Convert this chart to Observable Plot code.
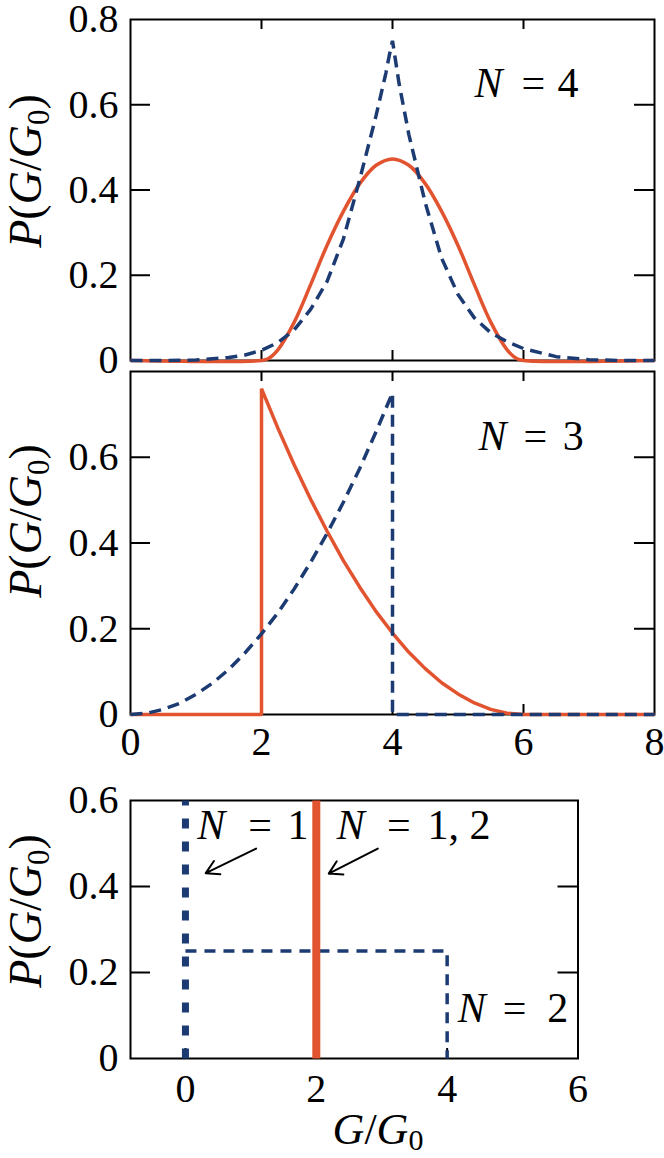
<!DOCTYPE html>
<html><head><meta charset="utf-8">
<script src="https://cdn.jsdelivr.net/npm/d3@7"></script>
<script src="https://cdn.jsdelivr.net/npm/@observablehq/plot@0.6"></script>
<style>
body{margin:0;background:#fff}
#fig{position:relative;width:664px;height:1158px;overflow:hidden;background:#fff}
#fig svg{position:absolute;left:0}
#fig svg text{font-family:"Liberation Serif","DejaVu Serif",serif}
</style></head><body><div id="fig"></div><script>
const FONT = "Liberation Serif, DejaVu Serif, serif";
const ORANGE = "#e2532f", BLUE = "#1c3b73";

// ---- N = 4 panel ----
const n4SolidG = [0, 2, 2.1, 2.25, 2.5, 2.75, 3, 3.25, 3.5, 3.75, 4, 4.25, 4.5, 4.75, 5, 5.25, 5.5, 5.75, 5.9, 6, 8];
const n4SolidP = [0, 0, 0.004, 0.025, 0.09, 0.178, 0.27, 0.35, 0.415, 0.458, 0.473, 0.458, 0.415, 0.35, 0.27, 0.178, 0.09, 0.025, 0.004, 0, 0];
const n4DashG = [0, 0.5, 1, 1.5, 1.75, 2, 2.25, 2.5, 2.75, 3, 3.25, 3.5, 3.75, 3.9, 3.95, 4, 4.05, 4.1, 4.25, 4.5, 4.75, 5, 5.25, 5.5, 5.75, 6, 6.5, 7, 7.5, 8];
const n4DashP = [0, 0, 0.001, 0.007, 0.013, 0.024, 0.042, 0.072, 0.12, 0.185, 0.285, 0.425, 0.575, 0.675, 0.715, 0.75, 0.70, 0.65, 0.53, 0.37, 0.24, 0.155, 0.1, 0.065, 0.044, 0.028, 0.009, 0.002, 0, 0];

// ---- N = 3 panel ----
const n3SolidG = [0, 2, 2, 2.25, 2.5, 2.75, 3, 3.25, 3.5, 3.75, 4, 4.25, 4.5, 4.75, 5, 5.25, 5.5, 5.75, 6, 8];
const n3SolidP = [0, 0, 0.76, 0.668, 0.582, 0.502, 0.428, 0.359, 0.297, 0.24, 0.19, 0.145, 0.107, 0.074, 0.048, 0.027, 0.012, 0.003, 0, 0];
const n3DashG = [0, 0.25, 0.5, 0.75, 1, 1.25, 1.5, 1.75, 2, 2.25, 2.5, 2.75, 3, 3.25, 3.5, 3.75, 4, 4, 8];
const n3DashP = [0, 0.003, 0.012, 0.026, 0.047, 0.073, 0.105, 0.144, 0.188, 0.237, 0.293, 0.355, 0.422, 0.495, 0.574, 0.66, 0.75, 0, 0];

// ---- N = 1, 2 panel ----
const n1DashG = [0, 0];
const n1DashP = [0, 0.6];
const n2DashG = [0, 4, 4];
const n2DashP = [0.25, 0.25, 0];
const n12SolidG = [2, 2];
const n12SolidP = [0, 0.6];

// ---- ticks ----
const xTicksWide = [0, 2, 4, 6, 8];
const yTicksTop = [0, 0.2, 0.4, 0.6, 0.8];
const yTicksMid = [0, 0.2, 0.4, 0.6];
const xTicksBottom = [0, 2, 4, 6];
const yTicksBottom = [0, 0.2, 0.4, 0.6];

const fig = document.getElementById("fig");
const rows = (g, p) => g.map((x, i) => ({x, y: p[i]}));

function frameMarks(W, H, xt, yt, bothX) {
  const s = {stroke: "black", strokeWidth: 2};
  const m = [
    Plot.frame({stroke: "black", strokeWidth: 2}),
    Plot.tickY(yt, {y: d => d, insetRight: W - 20, ...s}),
    Plot.tickY(yt, {y: d => d, insetLeft: W - 20, ...s}),
    Plot.tickX(xt, {x: d => d, insetTop: H - 10, ...s})
  ];
  if (bothX) m.push(Plot.tickX(xt, {x: d => d, insetBottom: H - 10, ...s}));
  return m;
}
function yLabels(yt) {
  return Plot.text(yt, {y: d => d, frameAnchor: "left", text: d => String(d), textAnchor: "end", dx: -12, fontSize: 40, fontFamily: FONT});
}
function xLabels(xt, pad) {
  return Plot.text(xt, {x: d => d, frameAnchor: "bottom", text: d => String(d), lineAnchor: "top", dy: pad, fontSize: 40, fontFamily: FONT});
}
// parts: [text, x, italic, anchor]
function mathLabel(parts, y) {
  return parts.map(([t, x, it, anchor]) => Plot.text([t], {x, y, text: d => d, lineAnchor: "bottom", textAnchor: anchor || "middle", fontSize: 42, fontFamily: FONT, fontStyle: it ? "italic" : "normal"}));
}
function curve(g, p, color, dashed, width, dash, c) {
  return Plot.line(rows(g, p), {x: "x", y: "y", stroke: color, strokeWidth: width, strokeDasharray: dashed ? dash : null, strokeLinecap: "butt", strokeLinejoin: "miter", curve: c || "linear"});
}
function panel(top, height, mt, mb, mr, xDomain, yDomain, marks) {
  const svg = Plot.plot({
    width: 664, height, marginTop: mt, marginBottom: mb, marginLeft: 130, marginRight: mr,
    x: {domain: xDomain, axis: null}, y: {domain: yDomain, axis: null},
    style: {background: "transparent", overflow: "visible", fontFamily: FONT, color: "black"},
    marks
  });
  svg.style.top = top + "px";
  svg.style.position = "absolute";
  fig.appendChild(svg);
  return svg;
}
function yTitle(svg, cx, cy) {
  const t = d3.select(svg).append("text")
    .attr("transform", `translate(${cx},${cy}) rotate(-90)`)
    .attr("text-anchor", "middle").attr("font-family", FONT).attr("font-size", 46).attr("fill", "black");
  t.append("tspan").attr("font-style", "italic").text("P");
  t.append("tspan").text("(");
  t.append("tspan").attr("font-style", "italic").text("G");
  t.append("tspan").text("/");
  t.append("tspan").attr("font-style", "italic").text("G");
  t.append("tspan").attr("font-size", 31).attr("dy", 8).text("0");
  t.append("tspan").attr("dy", -8).text(")");
}

// Panel 1 : N = 4
const W1 = 664 - 130 - 10, H1 = 341;
const p1 = panel(0, 380, 19, 20, 10, [0, 8], [0, 0.8], [
  ...frameMarks(W1, H1, [2, 4, 6], [0.2, 0.4, 0.6], true),
  curve(n4SolidG, n4SolidP, ORANGE, false, 3.5, null, "catmull-rom"),
  curve(n4DashG, n4DashP, BLUE, true, 3.5, "12,7"),
  yLabels(yTicksTop),
  ...mathLabel([["N", 5.68, true, "end"], ["=", 6.15, false], ["4", 6.68, false]], 0.618)
]);
yTitle(p1, 41, 171);

// Panel 2 : N = 3
const H2 = 343;
const p2 = panel(360, 420, 11, 66, 10, [0, 8], [0, 0.8], [
  ...frameMarks(W1, H2, [2, 4, 6], [0.2, 0.4, 0.6], true),
  curve(n3SolidG, n3SolidP, ORANGE, false, 3.5),
  curve(n3DashG, n3DashP, BLUE, true, 3.5, "12,7"),
  yLabels(yTicksMid),
  xLabels(xTicksWide, 12),
  ...mathLabel([["N", 5.74, true, "end"], ["=", 6.18, false], ["3", 6.76, false]], 0.616)
]);
yTitle(p2, 41, 161);

// Panel 3 : N = 1, 2
const W3 = 664 - 130 - 86.5, H3 = 258;
const p3 = panel(780, 378, 20, 100, 86.5, [-0.84, 6], [0, 0.6], [
  ...frameMarks(W3, H3, [0, 2, 4], [0.2, 0.4], false),
  curve(n2DashG, n2DashP, BLUE, true, 3.5, "11,8"),
  curve(n1DashG, n1DashP, BLUE, true, 7, "10,13"),
  curve(n12SolidG, n12SolidP, ORANGE, false, 8),
  Plot.arrow([{x1: 1.08, y1: 0.488, x2: 0.31, y2: 0.431}, {x1: 2.94, y1: 0.488, x2: 2.19, y2: 0.43}],
    {x1: "x1", y1: "y1", x2: "x2", y2: "y2", stroke: "black", strokeWidth: 2, headLength: 11, headAngle: 60}),
  yLabels(yTicksBottom),
  xLabels(xTicksBottom, 15),
  ...mathLabel([["N", 0.61, true, "end"], ["=", 1.14, false], ["1", 1.72, false]], 0.511),
  ...mathLabel([["N", 2.74, true, "end"], ["=", 3.26, false], ["1, 2", 4.18, false]], 0.511),
  ...mathLabel([["N", 4.59, true, "end"], ["=", 5.03, false], ["2", 5.69, false]], 0.0845)
]);
yTitle(p3, 41, 131);
const xt = d3.select(p3).append("text").attr("x", 378).attr("y", 364)
  .attr("text-anchor", "middle").attr("font-family", FONT).attr("font-size", 44).attr("fill", "black");
xt.append("tspan").attr("font-style", "italic").text("G");
xt.append("tspan").text("/");
xt.append("tspan").attr("font-style", "italic").text("G");
xt.append("tspan").attr("font-size", 30).attr("dy", 6).text("0");
</script></body></html>
